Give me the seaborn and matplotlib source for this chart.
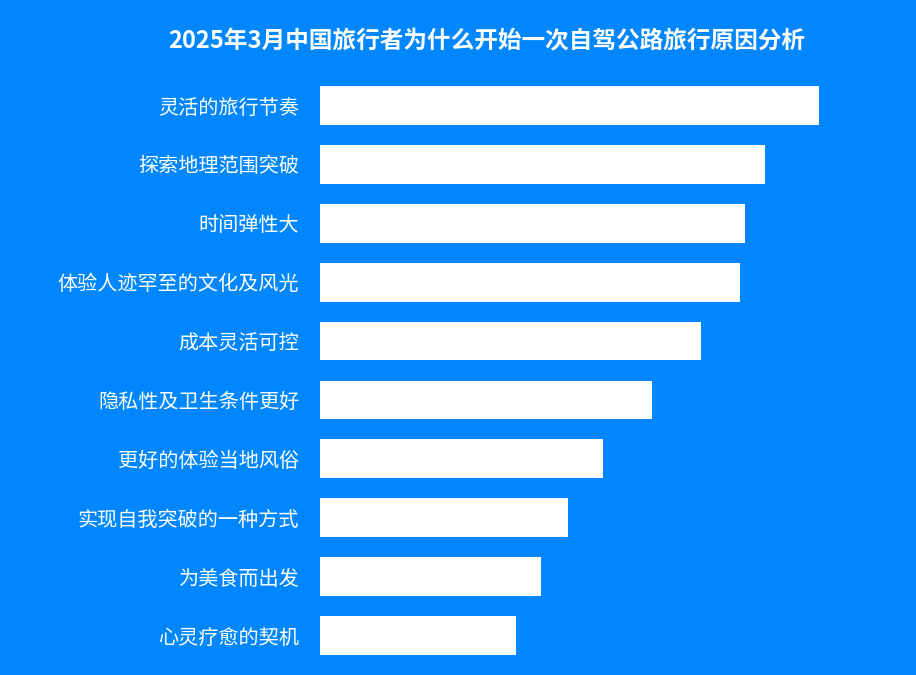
import pandas as pd
import matplotlib
matplotlib.use('Agg')
import matplotlib.pyplot as plt
import seaborn as sns

# Data (relative bar lengths)
reasons = ['灵活的旅行节奏', '探索地理范围突破', '时间弹性大', '体验人迹罕至的文化及风光',
           '成本灵活可控', '隐私性及卫生条件更好', '更好的体验当地风俗',
           '实现自我突破的一种方式', '为美食而出发', '心灵疗愈的契机']
values = [49.9, 44.5, 42.5, 42.0, 38.1, 33.2, 28.3, 24.8, 22.1, 19.6]
title = '2025年3月中国旅行者为什么开始一次自驾公路旅行原因分析'

bg = '#0087FF'

df = pd.DataFrame({'reason': reasons, 'value': values})

sns.set_theme(style='white')
plt.rcParams['font.family'] = ['Noto Sans CJK SC', 'DejaVu Sans']

fig = plt.figure(figsize=(9.16, 6.75), dpi=100, facecolor=bg)
ax = fig.add_axes([320 / 916, 10 / 675, 540 / 916, 589 / 675])
ax.set_facecolor(bg)

sns.barplot(data=df, y='reason', x='value', color='white', width=0.66,
            edgecolor='none', saturation=1, ax=ax)

ax.set_xlim(0, 54)
ax.set_xlabel('')
ax.set_ylabel('')
ax.set_xticks([])
ax.tick_params(axis='y', length=0, pad=15, labelsize=14.5, labelcolor='white')
for s in ax.spines.values():
    s.set_visible(False)

fig.text(487 / 916, 1 - 41 / 675, title, ha='center', va='center',
         fontsize=17, fontweight='bold', color='white')

fig.savefig('out.png', dpi=100, facecolor=bg)
